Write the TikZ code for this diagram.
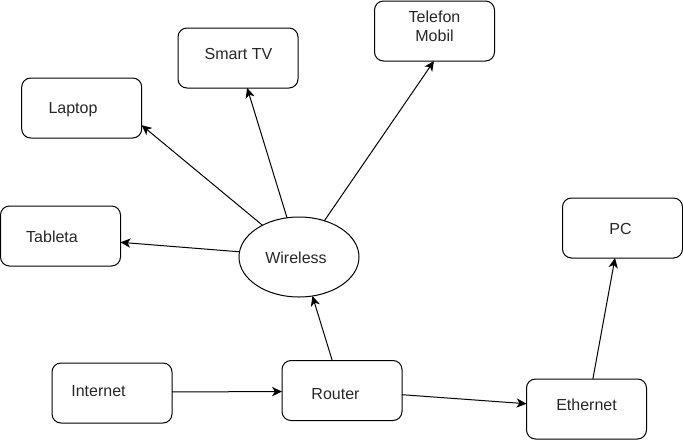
\documentclass[tikz,border=0pt]{standalone}
\usepackage{fontspec}
\setmainfont{Liberation Sans}
\usetikzlibrary{arrows.meta,shapes.geometric}
\begin{document}
\begin{tikzpicture}[x=0.75pt,y=-0.75pt,
  box/.style={draw, rounded corners=6.75pt, minimum width=90pt, minimum height=45pt, inner sep=0pt, outer sep=0pt, line width=0.75pt},
  ell/.style={draw, ellipse, minimum width=90pt, minimum height=60pt, inner sep=0pt, outer sep=0pt, line width=0.75pt},
  lbl/.style={font=\fontsize{12pt}{14.25pt}\selectfont, text=black!85, inner sep=0pt, outer sep=0pt, align=center},
  arr/.style={-{Stealth[length=7.5pt,width=7pt,inset=2.2pt]}, line width=0.75pt}]
\useasboundingbox (0,0) rectangle (683,440);

% shapes
\node[box] (telefon) at (434.5,31) {};
\node[box] (smarttv) at (238,58) {};
\node[box] (laptop) at (81.7,108) {};
\node[box] (tableta) at (60.5,236) {};
\node[ell] (wireless) at (299,257) {};
\node[box] (pc) at (622.5,228) {};
\node[box] (internet) at (112,393) {};
\node[box] (router) at (342,390.5) {};
\node[box] (ethernet) at (586.5,409) {};

% labels
\node[lbl] (telefon-t) at (434.5,26.5) {Telefon\\Mobil};
\node[lbl, anchor=base] (smarttv-t) at (238.5,59.8) {Smart TV};
\node[lbl, anchor=base] (laptop-t) at (73,113.8) {Laptop};
\node[lbl, anchor=base] (tableta-t) at (52,242.5) {Tableta};
\node[lbl, anchor=base] (wireless-t) at (296,263.5) {Wireless};
\node[lbl, anchor=base] (pc-t) at (620.5,234.8) {PC};
\node[lbl, anchor=base] (internet-t) at (98.5,396.8) {Internet};
\node[lbl, anchor=base] (router-t) at (335.5,399.8) {Router};
\node[lbl, anchor=base] (ethernet-t) at (586.5,410.8) {Ethernet};

% connectors
\draw[arr] (internet.1) -- (router.181);
\draw[arr] (router.108) -- (wireless.-71);
\draw[arr] (router.-4) -- (ethernet.175);
\draw[arr] (ethernet.78) -- (pc.256);
\draw[arr] (wireless.139) -- (laptop.-16);
\draw[arr] (wireless.107) -- (smarttv.-73);
\draw[arr] (wireless.55) -- (telefon.269);
\draw[arr] (wireless.175) -- (tableta.-6);
\end{tikzpicture}
\end{document}
